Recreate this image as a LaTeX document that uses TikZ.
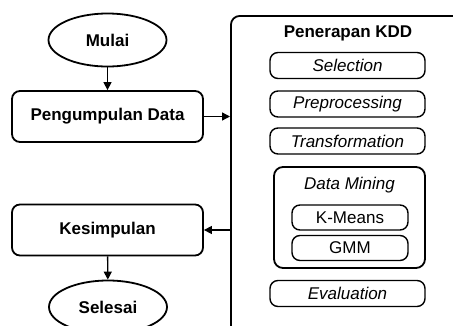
\documentclass[tikz,border=0pt]{standalone}
\usepackage{fontspec}
\setmainfont{Liberation Sans}
\usetikzlibrary{shapes.geometric,arrows.meta}
\begin{document}
\begin{tikzpicture}[x=1pt,y=-1pt,
  txt/.style={font=\fontsize{17}{20}\selectfont},
  btxt/.style={font=\bfseries\fontsize{17}{20}\selectfont},
  itxt/.style={font=\itshape\fontsize{17}{20}\selectfont},
  mainbox/.style={draw, line width=1.8pt, rounded corners=8pt, minimum width=191pt, minimum height=51pt, btxt, inner sep=0pt},
  term/.style={draw, ellipse, line width=1.8pt, minimum width=118pt, minimum height=53pt, btxt, inner sep=0pt},
  kddstep/.style={draw, line width=1.4pt, rounded corners=8pt, minimum width=155pt, minimum height=26pt, itxt, inner sep=0pt},
  algbox/.style={draw, line width=1.4pt, rounded corners=8pt, minimum width=116pt, minimum height=25pt, txt, inner sep=0pt},
  conn/.style={line width=1.4pt, -{Triangle[length=8pt,width=8pt]}}
]
\useasboundingbox (0,0) rectangle (453,325);
\clip (0,0) rectangle (453,325);
\fill[white] (0,0) rectangle (453,325);

\node[term] (mulai) at (107.5,40) {Mulai};
\node[mainbox] (peng) at (107.5,116.5) {Pengumpulan Data};
\node[mainbox] (kes) at (107.5,230) {Kesimpulan};
\node[term] (sel) at (108,307) {Selesai};

\node[draw, line width=1.8pt, rounded corners=9pt, minimum width=260pt, minimum height=340pt, anchor=north west, inner sep=0pt] (kdd) at (230,15) {};
\node[btxt] (kddtitle) at (348,33) {Penerapan KDD};
\node[kddstep] (selection) at (347.5,65.5) {Selection};
\node[kddstep] (prep) at (347.5,104) {Preprocessing};
\node[kddstep] (trans) at (347.5,141) {Transformation};
\node[draw, line width=1.8pt, rounded corners=9pt, minimum width=151pt, minimum height=101pt, inner sep=0pt] (dm) at (349.5,217.5) {};
\node[itxt] (dmtitle) at (349.5,185) {Data Mining};
\node[algbox] (km) at (350,217.5) {K-Means};
\node[algbox] (gmm) at (350,248) {GMM};
\node[kddstep] (eval) at (347.5,293.5) {Evaluation};

\draw[conn] (mulai) -- (peng);
\draw[conn] (peng.east) -- (peng.east -| kdd.west);
\draw[conn] (kes.east -| kdd.west) -- (kes.east);
\draw[conn] (kes) -- (sel);
\end{tikzpicture}
\end{document}
